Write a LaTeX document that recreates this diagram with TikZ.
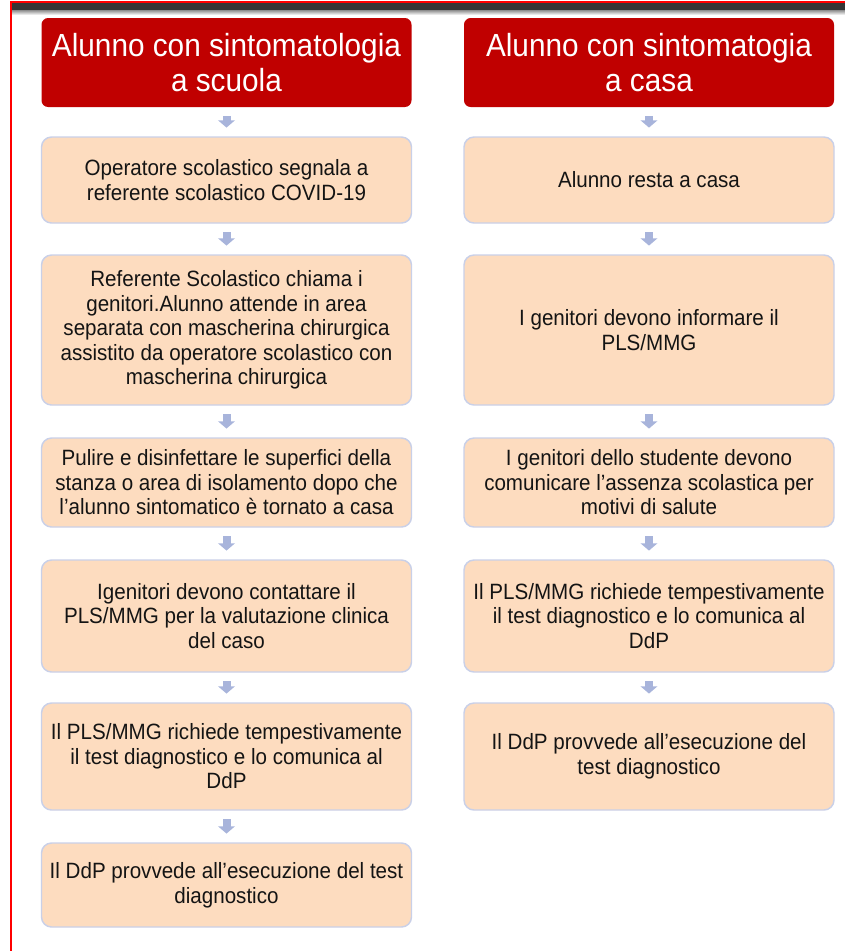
\documentclass[tikz,border=0pt]{standalone}
\usepackage{fontspec}
\setmainfont{Liberation Sans}
\newfontfamily\narrowsans{Liberation Sans}[FakeStretch=0.93]
\usetikzlibrary{arrows.meta}
\definecolor{headred}{HTML}{C00000}
\definecolor{boxfill}{HTML}{FDDCBF}
\definecolor{boxline}{HTML}{C9D0E8}
\definecolor{arrowblue}{HTML}{A8B4DB}
\definecolor{topbar}{HTML}{353535}

\begin{document}
\begin{tikzpicture}[x=0.75pt,y=-0.75pt,
    head/.style={fill=headred,rounded corners=5pt,minimum width=277.5pt,
        minimum height=89*0.75pt,inner sep=0pt,align=center,text=white,
        font=\narrowsans\fontsize{24}{26.5}\selectfont},
    stepbox/.style={fill=boxfill,draw=boxline,line width=1.1pt,rounded corners=7.5pt,
        minimum width=277.5pt,inner sep=0pt,align=center,text=black!92,
        font=\narrowsans\fontsize{16.6}{18.4}\selectfont},
    flow/.style={draw=arrowblue,line width=6pt,shorten <=6.5pt,shorten >=6.5pt,
        -{Triangle[width=12.5pt,length=5.5pt]}}]
                \useasboundingbox (0,0) rectangle (845,951);
                % frame of the slide
                \fill[topbar] (12,3) rectangle (845,10);
                \shade[top color=black!45,bottom color=white] (12,10) rectangle (845,15);
                \draw[red,line width=1.2pt] (845,2)--(11,2)--(11,951);
                % left column
                \node[head] (lh) at(226.5,62.5) {Alunno con sintomatologia\\a scuola};
                \node[stepbox,minimum height=86*0.75pt] (l1) at(226.5,180) {Operatore scolastico segnala a\\referente scolastico COVID-19};
                \node[stepbox,minimum height=150*0.75pt] (l2) at(226.5,330) {Referente Scolastico chiama i\\genitori.Alunno attende in area\\separata con mascherina chirurgica\\assistito da operatore scolastico con\\mascherina chirurgica};
                \node[stepbox,minimum height=89*0.75pt] (l3) at(226.5,482.5) {Pulire e disinfettare le superfici della\\stanza o area di isolamento dopo che\\l’alunno sintomatico è tornato a casa};
                \node[stepbox,minimum height=112*0.75pt] (l4) at(226.5,616) {Igenitori devono contattare il\\PLS/MMG per la valutazione clinica\\del caso};
                \node[stepbox,minimum height=107*0.75pt] (l5) at(226.5,756.5) {Il PLS/MMG richiede tempestivamente\\il test diagnostico e lo comunica al\\DdP};
                \node[stepbox,minimum height=84*0.75pt] (l6) at(226.5,885) {Il DdP provvede all’esecuzione del test\\diagnostico};
                % right column
                \node[head] (rh) at(649,62.5) {Alunno con sintomatogia\\a casa};
                \node[stepbox,minimum height=86*0.75pt] (r1) at(649,180) {Alunno resta a casa};
                \node[stepbox,minimum height=150*0.75pt] (r2) at(649,330) {I genitori devono informare il\\PLS/MMG};
                \node[stepbox,minimum height=89*0.75pt] (r3) at(649,482.5) {I genitori dello studente devono\\comunicare l’assenza scolastica per\\motivi di salute};
                \node[stepbox,minimum height=112*0.75pt] (r4) at(649,616) {Il PLS/MMG richiede tempestivamente\\il test diagnostico e lo comunica al\\DdP};
                \node[stepbox,minimum height=107*0.75pt] (r5) at(649,756.5) {Il DdP provvede all’esecuzione del\\test diagnostico};
                % arrows
                \draw[flow] (lh)--(l1);
                \draw[flow] (l1)--(l2);
                \draw[flow] (l2)--(l3);
                \draw[flow] (l3)--(l4);
                \draw[flow] (l4)--(l5);
                \draw[flow] (l5)--(l6);
                \draw[flow] (rh)--(r1);
                \draw[flow] (r1)--(r2);
                \draw[flow] (r2)--(r3);
                \draw[flow] (r3)--(r4);
                \draw[flow] (r4)--(r5);
            \end{tikzpicture}
\end{document}
